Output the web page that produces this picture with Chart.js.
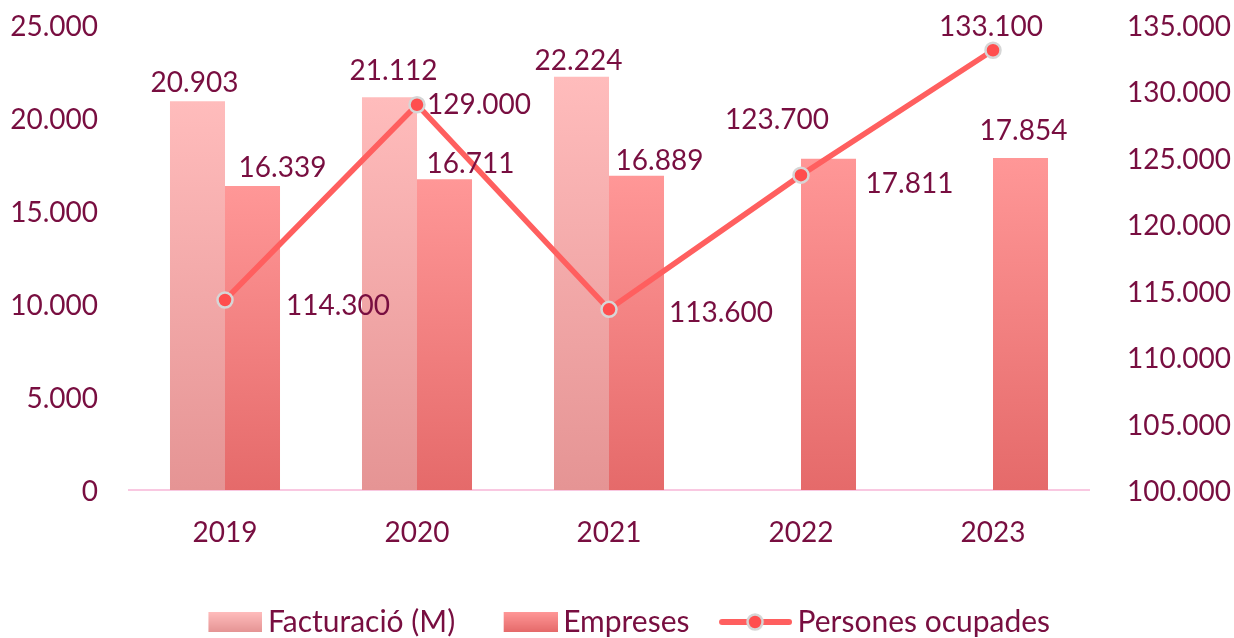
<!DOCTYPE html>
<html><head><meta charset="utf-8">
<script src="https://cdn.jsdelivr.net/npm/chart.js@4.4.1/dist/chart.umd.min.js"></script>
<style>html,body{margin:0;padding:0;background:#fff}#wrap{width:1234px;height:638px;position:relative}</style>
</head><body><div id="wrap"><canvas id="c"></canvas></div>
<script>
// ---- data ----
const years = ['2019', '2020', '2021', '2022', '2023'];
const facturacio = [20903, 21112, 22224, null, null];
const empreses = [16339, 16711, 16889, 17811, 17854];
const persones = [114300, 129000, 113600, 123700, 133100];
const seriesNames = ['Facturació (M)', 'Empreses', 'Persones ocupades'];
const leftAxis = { min: 0, max: 25000, step: 5000 };
const rightAxis = { min: 100000, max: 135000, step: 5000 };

// label nudges (dx, dy) relative to bar top-centre / point centre, as placed in the original
const labelNudge = [
  [[-3, -20], [4, -28], [-3, -18], [0, 0], [0, 0]],
  [[30, -20], [26, -17], [23, -17], [81, 23], [3, -29]],
  [[113, 4], [62, -2], [112, 2], [-24, -57], [-2, -25]]
];

const TXT = '#780E40';
const FONT = 'Lato';
const fmt = v => String(Math.round(v)).replace(/\B(?=(\d{3})+(?!\d))/g, '.');

const cols = {
  fact: ['#FFBCBC', '#E59494'],
  emp: ['#FF9797', '#E56A6A'],
  line: '#FF5F5F',
  point: '#FF4E4E',
  pointBorder: '#D6D6D6',
  axis: '#F9C8E1'
};

function barGradient(pair) {
  return (ctx) => {
    const c = ctx.chart;
    if (!c.chartArea || ctx.raw == null || !c.scales.y) return pair[0];
    const y = c.scales.y;
    const top = y.getPixelForValue(ctx.raw);
    const base = y.getPixelForValue(0);
    const g = c.ctx.createLinearGradient(0, top, 0, base);
    g.addColorStop(0, pair[0]);
    g.addColorStop(1, pair[1]);
    return g;
  };
}

// legend symbols
function boxSymbol(pair) {
  const cv = document.createElement('canvas');
  cv.width = 104; cv.height = 22;
  const x = cv.getContext('2d');
  const g = x.createLinearGradient(0, 1, 0, 21);
  g.addColorStop(0, pair[0]); g.addColorStop(1, pair[1]);
  x.fillStyle = g;
  x.fillRect(50, 1, 55, 20);
  return cv;
}
function lineSymbol() {
  const cv = document.createElement('canvas');
  cv.width = 104; cv.height = 22;
  const x = cv.getContext('2d');
  x.strokeStyle = cols.line; x.lineWidth = 6; x.lineCap = 'round';
  x.beginPath(); x.moveTo(34, 11); x.lineTo(101, 11); x.stroke();
  x.beginPath(); x.arc(67, 11, 7.5, 0, Math.PI * 2);
  x.fillStyle = cols.point; x.fill();
  x.lineWidth = 2.5; x.strokeStyle = cols.pointBorder; x.stroke();
  return cv;
}
const legendSymbols = [boxSymbol(cols.fact), boxSymbol(cols.emp), lineSymbol()];

const labelPlugin = {
  id: 'valueLabels',
  afterDatasetsDraw(chart) {
    const ctx = chart.ctx;
    ctx.save();
    ctx.font = '28px ' + FONT;
    ctx.fillStyle = TXT;
    ctx.textAlign = 'center';
    ctx.textBaseline = 'middle';
    chart.data.datasets.forEach((ds, di) => {
      const meta = chart.getDatasetMeta(di);
      meta.data.forEach((el, i) => {
        const v = ds.data[i];
        if (v == null) return;
        const [dx, dy] = labelNudge[di][i];
        ctx.fillText(fmt(v), el.x + dx, el.y + dy + 2);
      });
    });
    ctx.restore();
  }
};

const noPad = s => { s.paddingTop = 0; s.paddingBottom = 0; s.paddingLeft = 0; s.paddingRight = 0; };

new Chart(document.getElementById('c'), {
  type: 'bar',
  data: {
    labels: years,
    datasets: [
      { label: seriesNames[0], data: facturacio, yAxisID: 'y', order: 2,
        backgroundColor: barGradient(cols.fact), borderWidth: 0,
        categoryPercentage: 0.573, barPercentage: 1 },
      { label: seriesNames[1], data: empreses, yAxisID: 'y', order: 2,
        backgroundColor: barGradient(cols.emp), borderWidth: 0,
        categoryPercentage: 0.573, barPercentage: 1 },
      { type: 'line', label: seriesNames[2], data: persones, yAxisID: 'y1', order: 0,
        borderColor: cols.line, borderWidth: 5.5, backgroundColor: cols.point,
        pointRadius: 7.5, pointBorderWidth: 2.5, pointBorderColor: cols.pointBorder,
        pointBackgroundColor: cols.point, tension: 0, fill: false, borderCapStyle: 'round', borderJoinStyle: 'round' }
    ]
  },
  options: {
    responsive: true,
    maintainAspectRatio: false,
    animation: false,
    layout: { padding: { top: 25, left: 0, right: 0, bottom: -9 } },
    plugins: {
      tooltip: { enabled: false },
      legend: {
        position: 'bottom',
        fullSize: false,
        labels: {
          usePointStyle: true,
          pointStyleWidth: 85,
          boxHeight: 22,
          padding: 8,
          color: TXT,
          font: { family: FONT, size: 30 },
          generateLabels(chart) {
            return chart.data.datasets.map((ds, i) => ({
              text: ds.label,
              pointStyle: legendSymbols[i],
              fillStyle: 'transparent',
              strokeStyle: 'transparent',
              lineWidth: 0,
              fontColor: TXT,
              hidden: false,
              datasetIndex: i
            }));
          }
        }
      }
    },
    scales: {
      x: {
        grid: { display: false, drawTicks: false },
        border: { display: true, color: cols.axis, width: 2 },
        ticks: { color: TXT, font: { family: FONT, size: 28 }, padding: 26 },
        afterFit: s => { noPad(s); s.height = 109; }
      },
      y: {
        position: 'left', min: leftAxis.min, max: leftAxis.max,
        grid: { display: false, drawTicks: false },
        border: { display: false },
        ticks: { stepSize: leftAxis.step, color: TXT, font: { family: FONT, size: 28 }, padding: 31, labelOffset: 2, callback: v => fmt(v) },
        afterFit: s => { noPad(s); s.width = 129; }
      },
      y1: {
        position: 'right', min: rightAxis.min, max: rightAxis.max,
        grid: { display: false, drawTicks: false },
        border: { display: false },
        ticks: { stepSize: rightAxis.step, color: TXT, font: { family: FONT, size: 28 }, padding: 38, labelOffset: 2, callback: v => fmt(v) },
        afterFit: s => { noPad(s); s.width = 145; }
      }
    }
  },
  plugins: [labelPlugin]
});
</script>
</body></html>
